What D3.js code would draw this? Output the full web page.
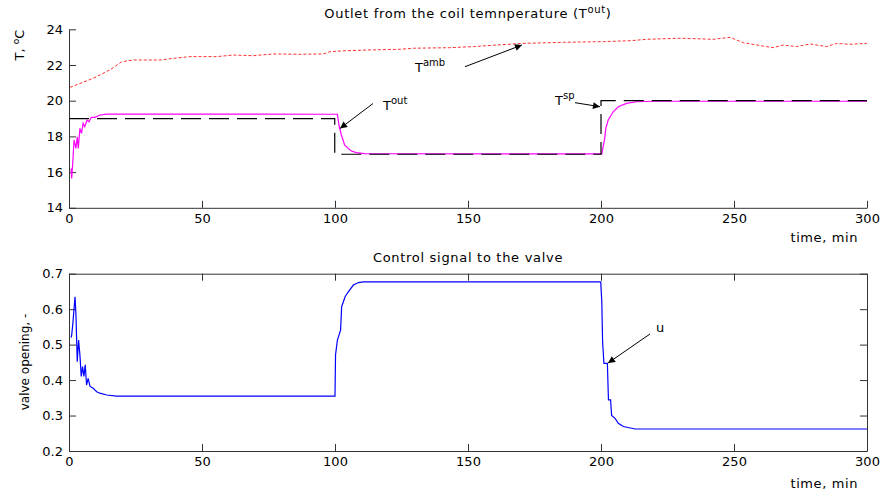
<!DOCTYPE html>
<html>
<head>
<meta charset="utf-8">
<script src="https://cdn.jsdelivr.net/npm/d3@7"></script>
<style>
  body { margin: 0; background: #fff; }
  svg text { font-family: "DejaVu Sans", sans-serif; fill: #000; }
  .axis path, .axis line { stroke: #333; }
  .wide { letter-spacing: 0.7px; }
</style>
</head>
<body>
<div id="chart"></div>
<script>
// tick values
var ticksTime = [0, 50, 100, 150, 200, 250, 300];
var ticksTemp = [14, 16, 18, 20, 22, 24];
var ticksValve = [0.2, 0.3, 0.4, 0.5, 0.6, 0.7];

// ambient temperature (red dotted)
var ambTime = [0.4, 9, 15.3, 19.8, 24.2, 34.2, 39.2, 45.4, 55.5, 61.8, 69.2, 76.8, 86.8, 95.6, 98.1, 104.3, 111.8, 124.4, 129.4, 143.1,
  152, 160.8, 170.2, 185.8, 200.9, 210.9, 217.2, 229.7, 242.2, 248.5, 253.5, 261, 264.7, 268.5, 273.5, 278.6, 284.8, 288.6, 293.6, 299.9];
var ambTemp = [20.75, 21.25, 21.72, 22.18, 22.28, 22.28, 22.37, 22.47, 22.47, 22.56, 22.52, 22.62, 22.6, 22.62, 22.75, 22.8, 22.84, 22.88, 22.94, 22.97,
  23.03, 23.12, 23.21, 23.27, 23.31, 23.36, 23.44, 23.5, 23.44, 23.55, 23.25, 23.06, 22.97, 23.12, 23.03, 23.18, 23.03, 23.21, 23.16, 23.21];

// set point (black dashed)
var spTime = [0, 99.9, 99.9, 200, 200, 300];
var spTemp = [19, 19, 17, 17, 20, 20];

// outlet temperature (magenta)
var outTime = [0.8, 1.0, 1.4, 1.9, 2.6, 3.1, 3.5, 4.1, 4.7, 5.3, 5.9, 6.8, 7.5, 8.4, 9.7, 11.7, 14.2, 17.3,
  100.9, 101.6, 102.4, 103.6, 104.9, 106.2, 108, 111,
  200.3, 201.4, 201.8, 202.7, 204.6, 206.5, 209.6, 213.3, 220, 300];
var outTemp = [16.2, 15.65, 16.5, 17.8, 17.33, 17.98, 17.33, 18.45, 18.17, 18.73, 18.54, 18.92, 18.82, 19.07, 19.07, 19.2, 19.25, 19.25,
  19.24, 18.54, 18.08, 17.52, 17.33, 17.18, 17.09, 17.03,
  17.02, 17.89, 18.45, 18.92, 19.38, 19.66, 19.85, 19.94, 19.97, 19.97];

// control signal (blue)
var uTime = [0.8, 1.0, 1.4, 1.9, 2.26, 2.6, 3.1, 3.6, 4.1, 4.6, 5.1, 5.6, 6.1, 6.6, 7.2, 7.9, 9.1, 10.4, 11.6, 14.2, 17.9,
  100.0, 100.2, 100.9, 102.1, 102.5, 103.8, 105, 106.9, 108.8, 110.6,
  199.9, 200.3, 200.6, 201.1, 202.4, 202.8, 203.6, 204, 205.3, 206.5, 208.4, 212.8, 300];
var uVal = [0.52, 0.527, 0.555, 0.602, 0.635, 0.588, 0.452, 0.513, 0.471, 0.41, 0.438, 0.41, 0.443, 0.386, 0.405, 0.382, 0.377, 0.367, 0.363, 0.358, 0.355,
  0.355, 0.471, 0.513, 0.541, 0.607, 0.635, 0.649, 0.668, 0.675, 0.677,
  0.677, 0.621, 0.508, 0.447, 0.447, 0.344, 0.344, 0.30, 0.292, 0.278, 0.269, 0.262, 0.262];

function zip(a, b) { return a.map(function(d, i) { return [d, b[i]]; }); }

var width = 883, height = 497;
var left = 69, right = 867;
var tickLen = 7;

var svg = d3.select("#chart").append("svg")
    .attr("width", width)
    .attr("height", height);

svg.append("rect").attr("width", width).attr("height", height).attr("fill", "#fff");

svg.append("defs").append("marker")
    .attr("id", "arrow")
    .attr("viewBox", "0 0 10 10")
    .attr("refX", 10).attr("refY", 5)
    .attr("markerWidth", 9).attr("markerHeight", 7)
    .attr("markerUnits", "userSpaceOnUse")
    .attr("orient", "auto")
    .append("path")
    .attr("d", "M0,0L10,5L0,10z")
    .attr("fill", "#000");

var x = d3.scaleLinear().domain([0, 300]).range([left, right]);

// ---------- top plot ----------
var y1 = d3.scaleLinear().domain([14, 24]).range([207.8, 29.3]);

svg.append("g").attr("class", "axis")
    .attr("transform", "translate(0," + y1(14) + ")")
    .call(d3.axisBottom(x).tickValues(ticksTime).tickSizeInner(-tickLen).tickSizeOuter(0).tickPadding(6))
    .selectAll("text").style("font-size", "13px");

svg.append("g").attr("class", "axis")
    .attr("transform", "translate(" + left + ",0)")
    .call(d3.axisLeft(y1).tickValues(ticksTemp).tickSizeInner(-tickLen).tickSizeOuter(0).tickPadding(6))
    .selectAll("text").style("font-size", "13px");

var line1 = d3.line().x(d => x(d[0])).y(d => y1(d[1]));

svg.append("path").datum(zip(ambTime, ambTemp))
    .attr("d", line1).attr("fill", "none")
    .attr("stroke", "#ff3030").attr("stroke-width", 1)
    .attr("stroke-dasharray", "3,2");

svg.append("path").datum(zip(outTime, outTemp))
    .attr("d", line1).attr("fill", "none")
    .attr("stroke", "#ff00ff").attr("stroke-width", 1.2);

svg.append("path").datum(zip(spTime, spTemp))
    .attr("d", line1).attr("fill", "none")
    .attr("stroke", "#000").attr("stroke-width", 1.2)
    .attr("stroke-dasharray", "20,8");

// title
var t1 = svg.append("text").attr("class", "wide").attr("x", 468).attr("y", 18).attr("text-anchor", "middle").style("font-size", "13px");
t1.append("tspan").text("Outlet from the coil temnperature (T");
t1.append("tspan").attr("dy", -5).style("font-size", "10px").text("out");
t1.append("tspan").attr("dy", 5).text(")");

var yl1 = svg.append("text").attr("transform", "translate(24,45) rotate(-90)")
    .attr("text-anchor", "middle").style("font-size", "13px");
yl1.append("tspan").text("T, ");
yl1.append("tspan").attr("dy", -5).style("font-size", "9px").text("o");
yl1.append("tspan").attr("dy", 5).text("C");

svg.append("text").attr("x", 858).attr("y", 242).attr("text-anchor", "end")
    .style("font-size", "13px").style("letter-spacing", "0.6px").text("time, min");

// annotations
function label(xp, yp, sup) {
  var t = svg.append("text").attr("x", xp).attr("y", yp).style("font-size", "13px");
  t.append("tspan").text("T");
  t.append("tspan").attr("dy", -6).style("font-size", "10px").text(sup);
}
function arrow(x0, y0, x1, y1p) {
  svg.append("line").attr("x1", x0).attr("y1", y0).attr("x2", x1).attr("y2", y1p)
      .attr("stroke", "#000").attr("stroke-width", 1).attr("marker-end", "url(#arrow)");
}
label(415, 72, "amb");
arrow(465, 66.7, 522, 45);
label(383, 110, "out");
arrow(373, 103.5, 340, 128.5);
label(555, 105, "sp");
arrow(575, 102.7, 600, 106.7);

// ---------- bottom plot ----------
var y2 = d3.scaleLinear().domain([0.2, 0.7]).range([451, 273.7]);

svg.append("g").attr("class", "axis")
    .attr("transform", "translate(0," + y2(0.2) + ")")
    .call(d3.axisBottom(x).tickValues(ticksTime).tickSizeInner(-tickLen).tickSizeOuter(0).tickPadding(6))
    .selectAll("text").style("font-size", "13px");

svg.append("g").attr("class", "axis")
    .attr("transform", "translate(0," + y2(0.7) + ")")
    .call(d3.axisTop(x).tickValues(ticksTime).tickSizeInner(-tickLen).tickSizeOuter(0).tickFormat(""));

svg.append("g").attr("class", "axis")
    .attr("transform", "translate(" + left + ",0)")
    .call(d3.axisLeft(y2).tickValues(ticksValve).tickSizeInner(-tickLen).tickSizeOuter(0).tickPadding(6).tickFormat(d3.format(".1f")))
    .selectAll("text").style("font-size", "13px");

svg.append("g").attr("class", "axis")
    .attr("transform", "translate(" + right + ",0)")
    .call(d3.axisRight(y2).tickValues(ticksValve).tickSizeInner(-tickLen).tickSizeOuter(0).tickFormat(""));

var line2 = d3.line().x(d => x(d[0])).y(d => y2(d[1]));

svg.append("path").datum(zip(uTime, uVal))
    .attr("d", line2).attr("fill", "none")
    .attr("stroke", "#0000ff").attr("stroke-width", 1.2);

svg.append("text").attr("class", "wide").attr("x", 468).attr("y", 262).attr("text-anchor", "middle")
    .style("font-size", "13px").text("Control signal to the valve");

svg.append("text").attr("transform", "translate(29,362) rotate(-90)")
    .attr("text-anchor", "middle").style("font-size", "12px").text("valve opening, -");

svg.append("text").attr("x", 858).attr("y", 488).attr("text-anchor", "end")
    .style("font-size", "13px").style("letter-spacing", "0.6px").text("time, min");

svg.append("text").attr("x", 656).attr("y", 332).style("font-size", "13px").text("u");
arrow(650, 334, 608, 363);
</script>
</body>
</html>
